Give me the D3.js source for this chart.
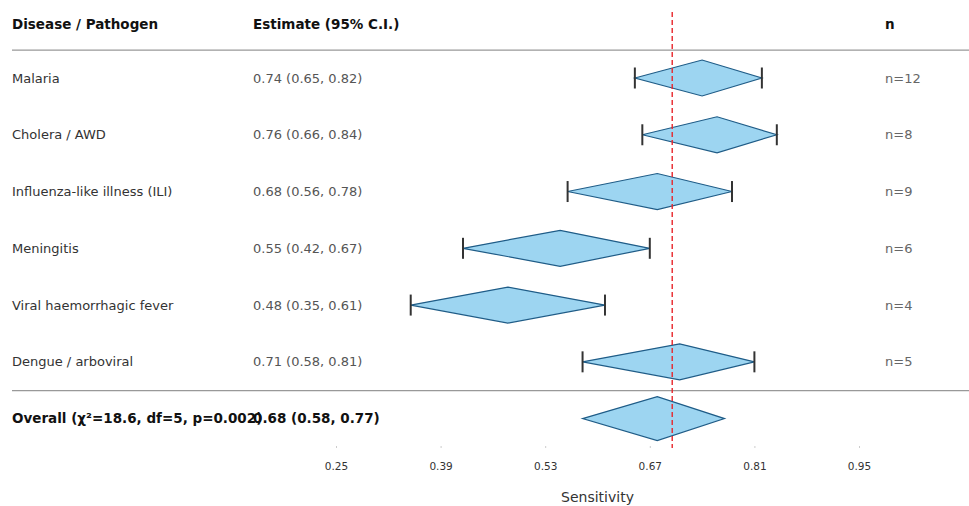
<!DOCTYPE html>
<html>
<head>
<meta charset="utf-8">
<script src="https://cdn.jsdelivr.net/npm/d3@7"></script>
<style>
  html, body { margin: 0; padding: 0; background: #fff; }
  svg { display: block; font-family: "DejaVu Sans", sans-serif; }
</style>
</head>
<body>
<svg id="chart" width="969" height="506"></svg>
<script>
// Per-disease pooled sensitivity estimates
const diseases = ["Malaria", "Cholera / AWD", "Influenza-like illness (ILI)", "Meningitis",
                  "Viral haemorrhagic fever", "Dengue / arboviral"];
const estimates = [0.74, 0.76, 0.68, 0.55, 0.48, 0.71];
const lower     = [0.65, 0.66, 0.56, 0.42, 0.35, 0.58];
const upper     = [0.82, 0.84, 0.78, 0.67, 0.61, 0.81];
const counts    = [12, 8, 9, 6, 4, 5];

// Pooled result
const overallLabel = "Overall (χ²=18.6, df=5, p=0.002)";
const overall = { est: 0.68, lo: 0.58, hi: 0.77 };

// Reference threshold
const threshold = 0.70;

// Axis ticks
const tickValues = [0.25, 0.39, 0.53, 0.67, 0.81, 0.95];
const axisTitle = "Sensitivity";

const svg = d3.select("#chart");
const fmt = d3.format(".2f");

const x = d3.scaleLinear().domain([0.25, 0.95]).range([336, 859]);
const y = d3.scaleLinear().domain([0, 6]).range([78, 418.6]);

const colLabel = 12, colEst = 253, colN = 885;

// Header
const headerY = 24;
const header = svg.append("g").attr("font-weight", "bold").attr("font-size", 13.5).attr("fill", "#111");
header.append("text").attr("x", colLabel).attr("y", headerY).attr("dy", "0.35em").text("Disease / Pathogen");
header.append("text").attr("x", colEst).attr("y", headerY).attr("dy", "0.35em").text("Estimate (95% C.I.)");
header.append("text").attr("x", colN).attr("y", headerY).attr("dy", "0.35em").text("n");

// Separator lines
[-0.5, 5.5].forEach(v => {
  svg.append("line")
    .attr("x1", colLabel).attr("x2", 969)
    .attr("y1", y(v) + 0.5).attr("y2", y(v) + 0.5)
    .attr("stroke", "#999").attr("stroke-width", 1.2);
});

// Row text
const rows = svg.append("g").attr("font-size", 13);
diseases.forEach((d, i) => {
  rows.append("text").attr("x", colLabel).attr("y", y(i)).attr("dy", "0.35em")
    .attr("fill", "#333").text(d);
  rows.append("text").attr("x", colEst).attr("y", y(i)).attr("dy", "0.35em")
    .attr("fill", "#555").text(`${fmt(estimates[i])} (${fmt(lower[i])}, ${fmt(upper[i])})`);
  rows.append("text").attr("x", colN).attr("y", y(i)).attr("dy", "0.35em")
    .attr("fill", "#666").text(`n=${counts[i]}`);
});

const ov = svg.append("g").attr("font-size", 13.5).attr("font-weight", "bold").attr("fill", "#111");
ov.append("text").attr("x", colLabel).attr("y", y(6)).attr("dy", "0.35em").text(overallLabel);
ov.append("text").attr("x", colEst).attr("y", y(6)).attr("dy", "0.35em")
  .text(`${fmt(overall.est)} (${fmt(overall.lo)}, ${fmt(overall.hi)})`);

// Diamond path helper
function diamond(lo, est, hi, cy, h) {
  return `M${x(lo)},${cy} L${x(est)},${cy - h} L${x(hi)},${cy} L${x(est)},${cy + h} Z`;
}

// Per-row diamonds with whisker caps
const marks = svg.append("g");
diseases.forEach((d, i) => {
  const cy = y(i);
  marks.append("path")
    .attr("d", diamond(lower[i], estimates[i], upper[i], cy, 18))
    .attr("fill", "#9dd5f1").attr("stroke", "#1f5c87").attr("stroke-width", 1.2);
  [lower[i], upper[i]].forEach(v => {
    marks.append("line")
      .attr("x1", x(v)).attr("x2", x(v))
      .attr("y1", cy - 10.5).attr("y2", cy + 10.5)
      .attr("stroke", "#333").attr("stroke-width", 2);
  });
});

// Overall diamond
marks.append("path")
  .attr("d", diamond(overall.lo, overall.est, overall.hi, y(6), 22))
  .attr("fill", "#9dd5f1").attr("stroke", "#1f5c87").attr("stroke-width", 1.2);

// Threshold line
svg.append("line")
  .attr("x1", x(threshold)).attr("x2", x(threshold))
  .attr("y1", 12).attr("y2", 448)
  .attr("stroke", "#e8262b").attr("stroke-width", 1.4)
  .attr("stroke-dasharray", "5,3");

// X axis
const axis = svg.append("g").attr("transform", "translate(0,446)")
  .call(d3.axisBottom(x).tickValues(tickValues).tickFormat(fmt).tickSize(2).tickPadding(15));
axis.select(".domain").remove();
axis.selectAll(".tick line").attr("stroke", "#ccc");
axis.selectAll(".tick text").attr("font-size", 10.5).attr("fill", "#333")
  .attr("font-family", "DejaVu Sans, sans-serif");

svg.append("text")
  .attr("x", x(0.6)).attr("y", 497).attr("dy", "0.35em")
  .attr("text-anchor", "middle").attr("font-size", 14).attr("fill", "#333")
  .text(axisTitle);
</script>
</body>
</html>
